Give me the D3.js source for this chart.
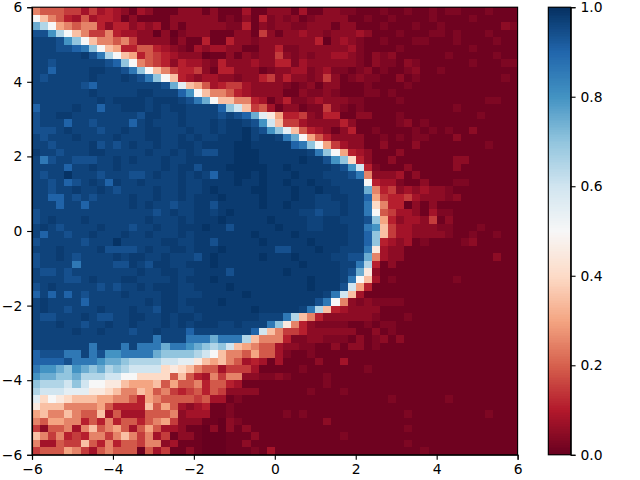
<!DOCTYPE html>
<html>
<head>
<meta charset="utf-8">
<script src="https://cdn.jsdelivr.net/npm/d3@7"></script>
<style>
html,body{margin:0;padding:0;background:#fff}
svg{display:block}
text{font-family:"DejaVu Sans",sans-serif;font-size:13.89px;fill:#000}
</style>
</head>
<body>
<div id="chart"></div>
<script>
const xTicks=[-6,-4,-2,0,2,4,6];
const yTicks=[-6,-4,-2,0,2,4,6];
const colorTicks=[0,0.2,0.4,0.6,0.8,1];
const levels=[0,.01,.03,.05,.08,.11,.15,.19,.25,.3,.35,.4,.45,.5,.55,.6,.65,.7,.75,.8,.86,.905,.94,.965,.98,.995];
const levelKeys="0123456789abcdefghijklmnop";
const rows=[
"8777664645 4314311133 3131114113 3314113322 1112112112 1221112111",
"da87547455 4131111333 3331213152 3231233331 1211211112 1111211111",
"igd9878853 5534341313 3333225132 3322333133 1112111211 2111111132",
"mmjgda8668 5443303023 3311133163 1334332333 4311121112 2121112111",
"nnnmjhda88 7863333131 1511533233 3333350343 2112111221 1121111211",
"nnnmmlkhda 9557754321 4344331133 5223333334 2111121111 1111211111",
"nnnnnnomkg da95765433 3011313233 6323233443 2132311111 1211111211",
"nnmnnnnnnm lhd8765354 4325333433 5524333333 2132213211 1111211122",
"nnlnnnnoon nmkhda8655 6315533312 3344234221 2312112311 2111111111",
"nmnnnnnonn nonmkhda54 3443323356 3533236312 3221131211 1111111121",
"nnnnnnmlnn nnnnnnmiea 9745664333 3212313311 1211112111 1111111111",
"nnnnnnnonn nnnoonnnlj da88754333 3113223211 1221211111 1111111111",
"nnnnnnnnon oooonooonm kidaa88541 3522343332 2111121111 1111112211",
"lnnnnonnln nooononoon nnnlhfa674 1331226321 2111111111 1121111111",
"mnnoonnnnn nnnmoonnon nnnmnmliec 9556325511 3311121111 1111121111",
"mnnnlnnmnn nnlnonnnon nnonoonmjf a664333353 1111123121 1111111111",
"mmmnonnnmn nonnoonnno nnonoopnmj hea7543135 1121111212 1211311111",
"nmnnnonnnn onnnoonnon onnooopnoo nkid975333 3112121221 1131111111",
"nnmnnnnomn mnonnonnoo nooooppooo oolkhd9643 3113111311 1111112111",
"onnmnnnoon nnnnonnono nmmoopppoo oooonkhd95 4311131111 1111111111",
"nkmnnmmmnn ononnnonno ooooopppoo ooopoomjhb 5311311111 1133111111",
"nnnnlnnonn onnnnnonoo mooopppppo opooooonmj f521113111 1131111111",
"nmnnpnnnmn nnmmnonnon onlooppopo oopooonnnm k833341311 1111111111",
"nnmnlmnonl onnonnnnon noooopoopo opoopoonnn nd54421131 1122111111",
"nnmnnonnon mnnnnonnon nopooooppo oopoopoonn ni85634343 3211111111",
"nnllnmnmnn nnonnonnon ooopoooopo oopoonnoon nl96556433 3231111111",
"nnnlnnlnnn nnononnmnn oomooooopo opooonnnon nkb8550313 1111111111",
"mnnnnnnnnn nnnnnmnonn oonopooooo ooonnmnnon nkd7644314 2211111111",
"mnonnnonnn nnnnonnnon ooopooooop oooonnoonn nmh9534436 1311111111",
"nonmnnnnon nnmnnonnoo opoomooooo pooonnooon nkja644333 2211121111",
"nlnnmnnonn nonnonnnon ooooooopoo oopoooooon nlha644333 3211211211",
"mnnnnnmnnn pnnnnnoonn oomooooopo oooopoooon nlh5434121 1112311111",
"nnnonnnnom mmmnonnoon ooopoooooo mmooopoonn nkc4331111 1111111111",
"mnnonmnnnn onoonnonnn mopooooopo oopoooonnm mi84331111 1111111311",
"mnnnnknnnn mmonmoonno oopooooooo ooopoooonn kg51311111 1111111111",
"nmmnmnnnnn nnnonnoonn oooomooooo opoooooonm ic31111111 1111111111",
"nnnnmmnonn noonnnnono oopooooooo oooopooonk da41211111 1121111111",
"mnonnnnnmn mnnonooonn oooopooooo oooopooomf 9511111111 1111111111",
"lnlnlnmnnn nonnnnoonn nooooopooo oooooonkfa 4111111111 1111111111",
"nonnnnlnnn nnnnonoono ooopoooooo ooooomkd83 2322221111 1111111111",
"nonnmnnnon nnonnmoonn ooooooopoo ooonkga543 3331111111 1111111111",
"nmmnnnonmm nnoonnonoo nooooooonn nkga853333 3321112111 1111111111",
"nnnonnmnno nnonnnonon ooonnonnnk hc85322221 1212211111 1111111111",
"nnnnnonnon nnmnnonnnl nnnnnnnlfa 8665333333 1131211111 1111111111",
"nnnnnnnnnn nnnnnknnnk kkikkkga88 8522332221 3123131111 1111111111",
"nnnnnnnknn nknkkkikkj ihghfa9877 4332211313 3121111111 1111111111",
"lmmmkknkmj jkkkkihhhh gfda887977 4211211111 1111111111 1111111111",
"llllmkkkji ihggggffee ca9a874541 4111131141 1111111111 1111111111",
"kjjihjihig hgffffbcba 8774666411 1112111111 1211111111 1111111111",
"jiihhigggf fddbbbb7a7 5486883322 3211112111 1111111111 1111111111",
"hgggfhfddc ca999a7977 8577541111 1111112111 1111111111 1111111111",
"gfffeeeccb a88a978656 7576333311 1111211121 1111111111 1111111111",
"ebdcbaaa99 8875987777 6744121111 1111111111 1111211111 1211111111",
"caaa888897 5555a79743 4511211111 1111111111 1111111111 1111111111",
"9a88a877a4 7444777834 4411211111 1212111111 1111112111 1111112111",
"8799885758 5775789633 3110321111 1111113111 1111111111 1111111111",
"6377848a78 9747974431 1030313111 1111111111 1111112111 1111111111",
"a868565886 8a86846133 1000111311 1111111121 1111111111 1111111111",
"844766a758 5776883411 1000113111 1111111111 1111112111 1111111111",
"6777986478 7771746113 1000111214 1111111111 1111111121 1111111111"
];

const L=32,R=517.6,T=7.2,B=454.8,CL=548.3,CR=570.7;
const TICK=4.86,PAD=4.86,LW=1.11;
const svg=d3.select("#chart").append("svg").attr("width",640).attr("height",480);
const x=d3.scaleLinear().domain([-6,6]).range([L,R]);
const y=d3.scaleLinear().domain([-6,6]).range([B,T]);
const colorY=d3.scaleLinear().domain([0,1]).range([B,T]);
const stops=d3.schemeRdBu[11];
const color=d3.scaleLinear().domain(stops.map((d,i)=>i/10)).range(stops).interpolate(d3.interpolateRgb);
const levelOf=d3.scaleOrdinal().domain(levelKeys.split("")).range(levels);
const table=rows.map(r=>r.replace(/ /g,"").split("").map(c=>levelOf(c)));
const n=table.length;
const ex=d3.scaleLinear().domain([0,n]).range([L,R]);
const ey=d3.scaleLinear().domain([0,n]).range([T,B]);
const px=i=>Math.round(ex(i)), py=i=>Math.round(ey(i));
svg.append("g").attr("shape-rendering","crispEdges").selectAll("g").data(table).join("g").each(function(row,r){
  d3.select(this).selectAll("rect").data(row).join("rect")
    .attr("x",(d,c)=>px(c)).attr("y",py(r))
    .attr("width",(d,c)=>px(c+1)-px(c)).attr("height",py(r+1)-py(r))
    .attr("fill",d=>color(d));
});
const fmt=d=>String(d).replace("-","\u2212");
function style(g){
  g.selectAll(".domain").attr("stroke","#000").attr("stroke-width",LW);
  g.selectAll(".tick line").attr("stroke","#000").attr("stroke-width",LW);
}
svg.append("g").attr("transform",`translate(0,${B})`)
  .call(d3.axisBottom(x).tickValues(xTicks).tickFormat(fmt).tickSize(TICK).tickPadding(PAD)).call(style);
svg.append("g").attr("transform",`translate(${L},0)`)
  .call(d3.axisLeft(y).tickValues(yTicks).tickFormat(fmt).tickSize(TICK).tickPadding(PAD)).call(style);
svg.append("rect").attr("x",L).attr("y",T).attr("width",R-L).attr("height",B-T).attr("fill","none").attr("stroke","#000").attr("stroke-width",LW);

const bands=d3.range(256);
svg.append("g").attr("shape-rendering","crispEdges").selectAll("rect").data(bands).join("rect")
  .attr("x",CL).attr("width",CR-CL)
  .attr("y",d=>colorY((d+1)/256)).attr("height",d=>colorY(d/256)-colorY((d+1)/256)+0.5)
  .attr("fill",d=>color((d+0.5)/256));
svg.append("g").attr("transform",`translate(${CR},0)`)
  .call(d3.axisRight(colorY).tickValues(colorTicks).tickFormat(d3.format(".1f")).tickSize(TICK).tickPadding(PAD)).call(style);
svg.append("rect").attr("x",CL).attr("y",T).attr("width",CR-CL).attr("height",B-T).attr("fill","none").attr("stroke","#000").attr("stroke-width",LW);
svg.selectAll("text").attr("font-family",null).attr("font-size",null);
</script>
</body>
</html>
